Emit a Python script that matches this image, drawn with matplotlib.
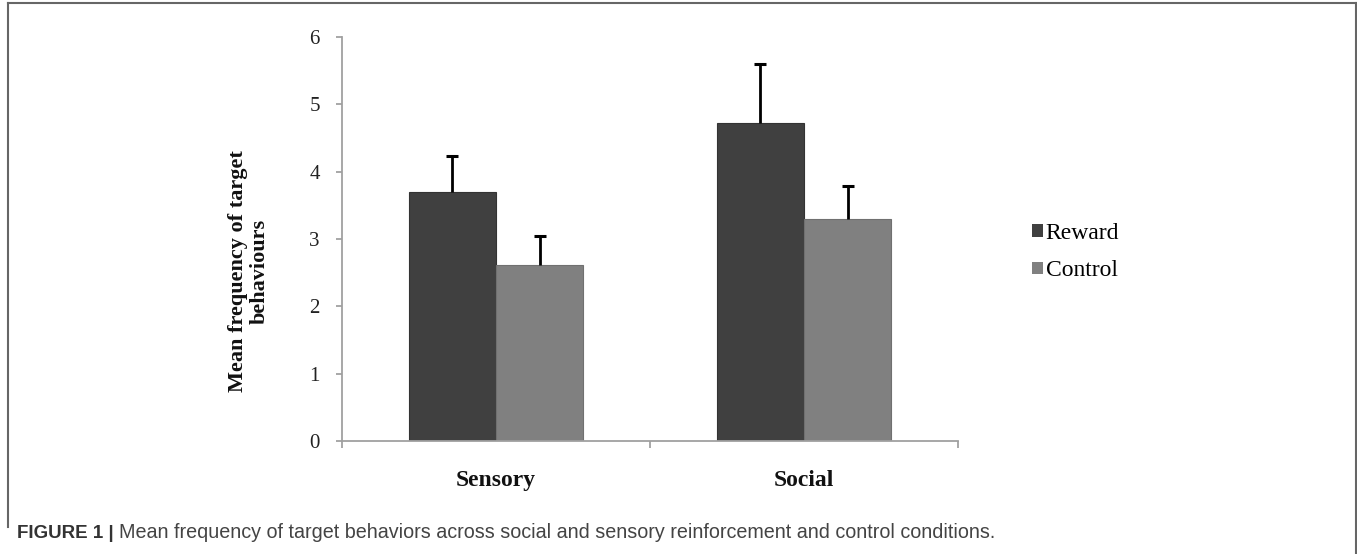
import numpy as np
import matplotlib.pyplot as plt
from matplotlib.patches import Patch
from matplotlib.lines import Line2D

# data
conditions = ['Sensory', 'Social']
series = ['Reward', 'Control']
reward_mean = [3.70, 4.72]
reward_err = [0.53, 0.88]
control_mean = [2.62, 3.30]
control_err = [0.43, 0.49]
y_ticks = [0, 1, 2, 3, 4, 5, 6]

colors = {'Reward': '#404040', 'Control': '#808080'}
serif = ['Liberation Serif', 'DejaVu Serif']

fig = plt.figure(figsize=(13.57, 5.54), dpi=100)
ax = fig.add_axes([342/1357, 1 - 441/554, (958-342)/1357, (441-37)/554])

x = np.arange(len(conditions))
w = 0.2825
for offset, mean, err, name, edge in [(-w/2, reward_mean, reward_err, 'Reward', '#333333'),
                                      (w/2, control_mean, control_err, 'Control', '#707070')]:
    pos = x + offset
    mean = np.array(mean)
    err = np.array(err)
    ax.bar(pos, mean, w, color=colors[name], edgecolor=edge, lw=0.8, zorder=2)
    # upper error only, cap just at the top
    ax.errorbar(pos, mean, yerr=[np.zeros(len(pos)), err], fmt='none', ecolor='black',
                elinewidth=2, capsize=0, zorder=3)
    ax.plot(pos, mean + err, ls='none', marker='_', markersize=9, mew=2.2,
            color='black', zorder=3)

ax.set_xlim(-0.5, 1.5)
ax.set_ylim(0, 6)
ax.set_yticks(y_ticks)
ax.set_yticklabels([str(t) for t in y_ticks], family=serif, fontsize=15, color='#222222')
ax.set_xticks(x)
ax.set_xticklabels(conditions, family=serif, fontsize=17, fontweight='bold', color='#111111')
ax.set_xticks([-0.5, 0.5, 1.5], minor=True)
ax.tick_params(axis='x', which='major', length=0, pad=21)
ax.tick_params(axis='x', which='minor', length=5, width=1.2, color='#999999', direction='out')
ax.tick_params(axis='y', length=4, width=1.2, color='#999999', pad=12)

for s in ['top', 'right']:
    ax.spines[s].set_visible(False)
for s in ['left', 'bottom']:
    ax.spines[s].set_color('#a0a0a0')
    ax.spines[s].set_linewidth(1.3)

fig.text(249/1357, 1 - 271/554, 'Mean frequency of target\nbehaviours', rotation=90,
         ha='center', va='center', multialignment='center', family=serif,
         fontsize=16, fontweight='bold', color='#111111', linespacing=1.1)

handles = [Patch(facecolor=colors[s], edgecolor='none') for s in series]
fig.legend(handles, series, loc='center left', bbox_to_anchor=(1011/1357, 1 - 252/554),
           frameon=False, prop={'family': serif, 'size': 17}, handlelength=0.45,
           handleheight=0.45, handletextpad=0.12, labelspacing=0.7)

# outer frame
frame_kw = dict(color='#666666', lw=1.5, transform=fig.transFigure)
fig.add_artist(Line2D([8/1357, 1355.5/1357], [1 - 3/554, 1 - 3/554], **frame_kw))
fig.add_artist(Line2D([8/1357, 8/1357], [1 - 3/554, 1 - 527/554], **frame_kw))
fig.add_artist(Line2D([1355.5/1357, 1355.5/1357], [1 - 3/554, 0], **frame_kw))

# caption
sans = ['Liberation Sans', 'DejaVu Sans']
t1 = fig.text(17/1357, 1 - 533/554, 'FIGURE 1 | ', family=sans, fontsize=13.5,
              fontweight='bold', color='#333333', va='center')
ax.annotate('Mean frequency of target behaviors across social and sensory reinforcement '
            'and control conditions.', xy=(1, 0), xycoords=t1, va='bottom', ha='left',
            family=sans, fontsize=14.2, color='#444444', annotation_clip=False)

fig.savefig('out.png', dpi=100)
